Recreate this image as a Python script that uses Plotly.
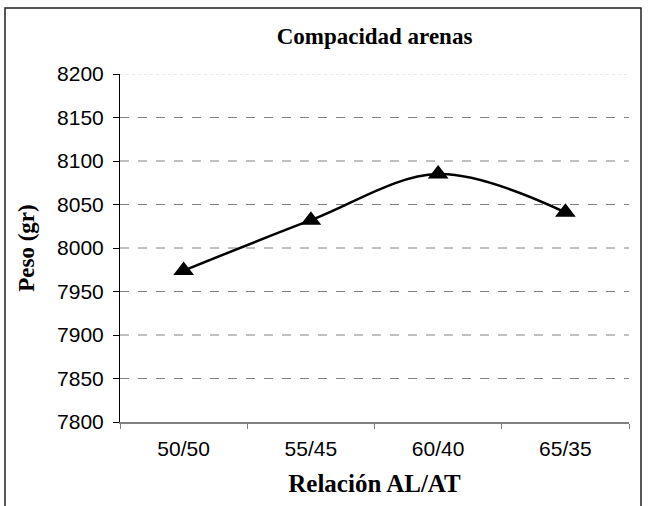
import plotly.graph_objects as go

categories = ["50/50", "55/45", "60/40", "65/35"]
peso = [7974, 8032, 8085, 8041]
y_ticks = [7800, 7850, 7900, 7950, 8000, 8050, 8100, 8150, 8200]

fig = go.Figure()
fig.add_trace(go.Scatter(
    x=categories, y=peso, mode="lines+markers",
    line=dict(color="black", width=2.5, shape="spline", smoothing=1),
    marker=dict(symbol="triangle-up", size=18, color="black"),
    showlegend=False, cliponaxis=False,
))

# dashed gridlines
for v in y_ticks[1:-1]:
    fig.add_shape(type="line", xref="paper", x0=0, x1=1, yref="y", y0=v, y1=v,
                  line=dict(color="#808080", width=1, dash="dash"), layer="below")
fig.add_shape(type="line", xref="paper", x0=0, x1=1, yref="y", y0=y_ticks[-1], y1=y_ticks[-1],
              line=dict(color="#d0d0d0", width=1, dash="dot"), layer="below")

# outer chart frame
L, R, T, B = 120, 629, 74, 422
pw, ph = R - L, B - T
fig.add_shape(type="rect", xref="paper", yref="paper",
              x0=(5 - L) / pw, x1=(641 - L) / pw,
              y0=(B - 520) / ph, y1=(B - 8) / ph,
              line=dict(color="#202020", width=1.5), fillcolor="rgba(0,0,0,0)", layer="below")

fig.update_layout(
    width=648, height=506,
    margin=dict(l=L, r=648 - R, t=T, b=506 - B),
    paper_bgcolor="white", plot_bgcolor="white",
    title=dict(text="<b>Compacidad arenas</b>", x=0.5, xref="paper", y=1 - 36 / 506, yanchor="middle",
               font=dict(family="Liberation Serif", size=23, color="black")),
    xaxis=dict(
        type="category", range=[-0.5, 3.5], showgrid=False,
        showline=True, linecolor="#808080", linewidth=1.5,
        ticks="outside", tickson="boundaries", ticklen=5, tickcolor="#808080", tickwidth=1,
        ticklabelstandoff=7,
        tickfont=dict(family="Liberation Sans", size=21, color="black"),
        title=dict(text="<b>Relación AL/AT</b>", standoff=16,
                   font=dict(family="Liberation Serif", size=25, color="black")),
    ),
    yaxis=dict(
        range=[7800, 8200], tickvals=y_ticks, showgrid=False, zeroline=False,
        showline=True, linecolor="black", linewidth=1,
        ticks="outside", ticklen=6, tickcolor="black", tickwidth=1,
        ticklabelstandoff=5,
        tickfont=dict(family="Liberation Sans", size=21, color="black"),
        title=dict(text="<b>Peso (gr)</b>", standoff=16,
                   font=dict(family="Liberation Serif", size=23, color="black")),
    ),
)

fig.write_html("out.html", config={"displayModeBar": False},
               post_script="document.body.style.margin='0';document.body.style.overflow='hidden';")
